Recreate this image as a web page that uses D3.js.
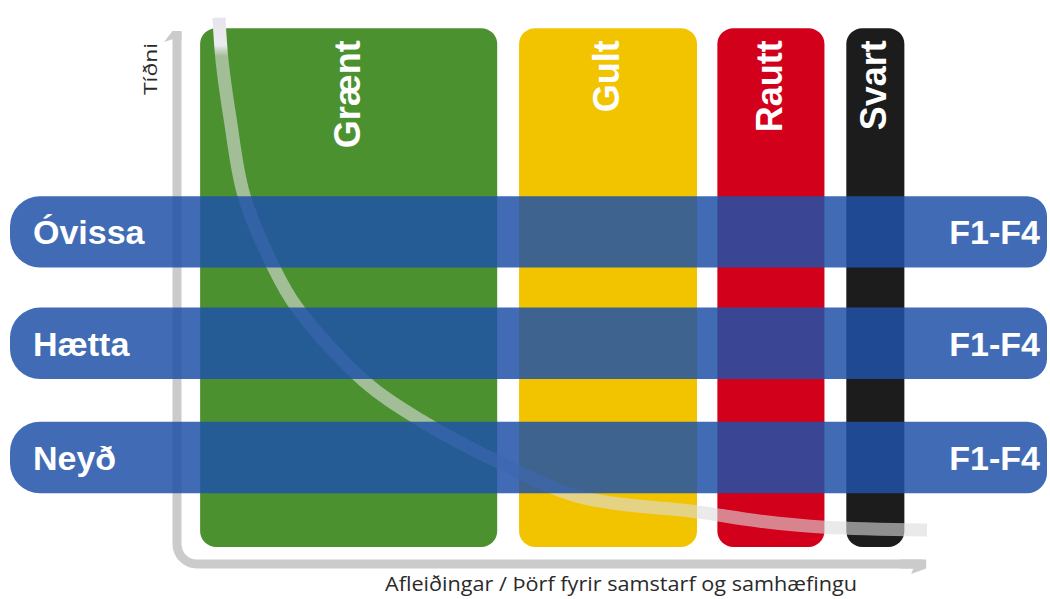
<!DOCTYPE html>
<html>
<head>
<meta charset="utf-8">
<script src="https://cdn.jsdelivr.net/npm/d3@7"></script>
<style>
  html, body { margin: 0; padding: 0; background: #fff; }
  svg { display: block; }
</style>
</head>
<body>
<div id="container"><svg></svg></div>
<script>
let width = 1050;
let height = 599;

// litaflokkar (afleiðingar) - byrjun og endir á x-ás, 0-100
let categories = ['Grænt', 'Gult', 'Rautt', 'Svart'];
let catStart = [3.2, 45.5, 71.8, 88.9];
let catEnd = [42.6, 69.1, 86.0, 96.6];
let catColors = ['#4c9130', '#f2c400', '#d2001b', '#1c1c1c'];
let catTop = 97.6;
let catBottom = 3.1;

// hættustig (tíðni) - miðja á y-ás, 0-100
let levels = ['Óvissa', 'Hætta', 'Neyð'];
let levelValues = [60.5, 40.2, 19.4];
let levelHalf = 6.5;
let levelTag = 'F1-F4';

// ferill tíðni / afleiðinga
let curveX = [5.7, 6.1, 7.2, 9.0, 13.0, 16.0, 24.8, 32.4, 43.0, 53.6, 69.1, 77.5, 86.1, 99.6];
let curveY = [99.5, 91.8, 80.9, 67.2, 53.9, 46.8, 33.5, 26.2, 18.4, 12.2, 9.5, 7.8, 6.7, 6.2];

let xLabel = 'Afleiðingar / Þörf fyrir samstarf og samhæfingu';
let yLabel = 'Tíðni';

function draw_graph() {
    let svg = d3.select('#container').select('svg')
        .attr('width', width)
        .attr('height', height);

    let x = d3.scaleLinear().domain([0, 100]).range([176, 930]);
    let y = d3.scaleLinear().domain([0, 100]).range([564, 15]);
    let color = d3.scaleOrdinal().domain(categories).range(catColors);

    let defs = svg.append('defs');
    let grad = defs.append('linearGradient')
        .attr('id', 'curveGrad')
        .attr('gradientUnits', 'userSpaceOnUse')
        .attr('x1', 0).attr('y1', y(100))
        .attr('x2', 0).attr('y2', y(90));
    grad.append('stop').attr('offset', 0).attr('stop-color', '#e4e4ea').attr('stop-opacity', 1);
    grad.append('stop').attr('offset', 0.55).attr('stop-color', '#ececf0').attr('stop-opacity', 1);
    grad.append('stop').attr('offset', 0.75).attr('stop-color', '#dcdcdc').attr('stop-opacity', 0.6);
    grad.append('stop').attr('offset', 1).attr('stop-color', '#dcdcdc').attr('stop-opacity', 0.6);

    // ásar (L laga með hálfri ör á endum)
    let ax = x(0) + 1, ay = y(0), r = 20;
    let axis = svg.append('g').attr('fill', 'none').attr('stroke', '#cbcbcb');
    axis.append('path')
        .attr('stroke-width', 9)
        .attr('d', `M${ax},${y(97)} V${ay - r} A${r},${r} 0 0 0 ${ax + r},${ay} H${x(99)}`);
    axis.append('path')
        .attr('fill', '#cbcbcb').attr('stroke', 'none')
        .attr('d', `M${ax + 4.5},${y(97.1)} L${ax - 4.5},${y(97.1)} L${ax - 13},${y(95.1)} L${ax - 4.5},${y(95.6)} L${ax + 4.5},${y(95.6)} Z`);
    axis.append('path')
        .attr('fill', '#cbcbcb').attr('stroke', 'none')
        .attr('d', `M${x(99.5)},${ay - 4.5} L${x(99.5)},${ay + 4.5} L${x(97.5)},${ay + 10} L${x(97.8)},${ay + 4.5} L${x(96)},${ay + 4.5} L${x(96)},${ay - 4.5} Z`);

    // litasúlur
    svg.append('g')
        .selectAll('rect')
        .data(categories)
        .join('rect')
        .attr('x', (d, i) => x(catStart[i]))
        .attr('y', y(catTop))
        .attr('width', (d, i) => x(catEnd[i]) - x(catStart[i]))
        .attr('height', y(catBottom) - y(catTop))
        .attr('rx', 16)
        .attr('fill', d => color(d));

    // ferill
    let pts = curveX.map((v, i) => [x(v), y(curveY[i])]);
    svg.append('path')
        .datum(pts)
        .attr('fill', 'none')
        .attr('stroke', 'url(#curveGrad)')
        .attr('stroke-width', 13)
        .attr('stroke-linecap', 'butt')
        .attr('d', d3.line().curve(d3.curveCatmullRom.alpha(0.5)));

    // nöfn súlna
    svg.append('g')
        .selectAll('text')
        .data(categories)
        .join('text')
        .attr('transform', (d, i) => `translate(${(x(catStart[i]) + x(catEnd[i])) / 2 - 2},${y(catTop) + 12}) rotate(-90)`)
        .attr('text-anchor', 'end')
        .attr('dy', '0.36em')
        .attr('font-family', 'Liberation Sans, Arial, sans-serif')
        .attr('font-weight', 'bold')
        .attr('font-size', 36)
        .attr('fill', '#fff')
        .text(d => d);

    // hættustigsborðar
    let L = 10, R = 1047, r1 = 30, r2 = 20;
    function bandPath(c) {
        let T = y(c + levelHalf), B = y(c - levelHalf);
        return `M${L + r1},${T} H${R - r2} A${r2},${r2} 0 0 1 ${R},${T + r2} V${B - r2}` +
            ` A${r2},${r2} 0 0 1 ${R - r2},${B} H${L + r1} A${r1},${r1} 0 0 1 ${L},${B - r1}` +
            ` V${T + r1} A${r1},${r1} 0 0 1 ${L + r1},${T} Z`;
    }
    let bands = svg.append('g');
    bands.selectAll('path')
        .data(levels)
        .join('path')
        .attr('d', (d, i) => bandPath(levelValues[i]))
        .attr('fill', '#2052a8')
        .attr('fill-opacity', 0.85);

    bands.selectAll('text.level')
        .data(levels)
        .join('text')
        .attr('class', 'level')
        .attr('x', 33)
        .attr('y', (d, i) => y(levelValues[i]))
        .attr('dy', '0.36em')
        .attr('font-family', 'Liberation Sans, Arial, sans-serif')
        .attr('font-weight', 'bold')
        .attr('font-size', 34)
        .attr('fill', '#fff')
        .text(d => d);

    bands.selectAll('text.tag')
        .data(levels)
        .join('text')
        .attr('class', 'tag')
        .attr('x', 1040)
        .attr('y', (d, i) => y(levelValues[i]))
        .attr('dy', '0.36em')
        .attr('text-anchor', 'end')
        .attr('font-family', 'Liberation Sans, Arial, sans-serif')
        .attr('font-weight', 'bold')
        .attr('font-size', 34)
        .attr('fill', '#fff')
        .text(levelTag);

    // ásaheiti
    svg.append('text')
        .attr('x', 385)
        .attr('y', 591)
        .attr('textLength', 472)
        .attr('lengthAdjust', 'spacingAndGlyphs')
        .attr('font-family', 'Open Sans, sans-serif')
        .attr('font-size', 20)
        .attr('fill', '#2a2a2a')
        .text(xLabel);

    svg.append('text')
        .attr('transform', 'translate(157,95) rotate(-90)')
        .attr('textLength', 52)
        .attr('lengthAdjust', 'spacingAndGlyphs')
        .attr('font-family', 'Open Sans, sans-serif')
        .attr('font-size', 19)
        .attr('fill', '#2a2a2a')
        .text(yLabel);
}

draw_graph();
</script>
</body>
</html>
